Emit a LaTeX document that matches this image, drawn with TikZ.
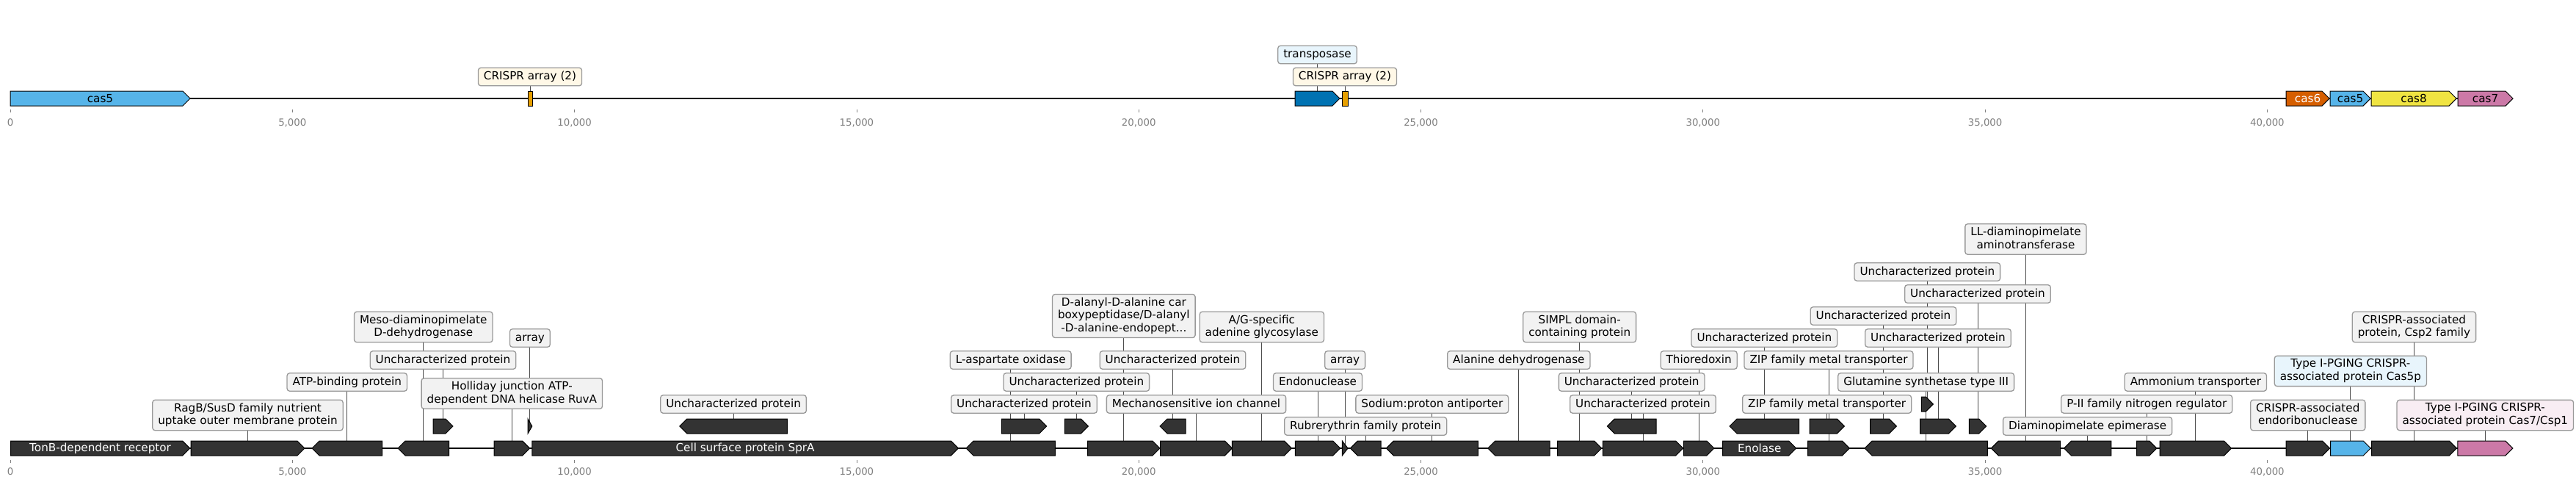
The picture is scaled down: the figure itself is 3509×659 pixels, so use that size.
\documentclass[tikz,border=0pt]{standalone}
\usepackage{fontspec}
\setmainfont{DejaVu Sans}
\usetikzlibrary{backgrounds}
\definecolor{gdark}{HTML}{333333}
\definecolor{lblfill}{HTML}{F2F2F2}
\definecolor{lbledge}{HTML}{999999}
\definecolor{tickgray}{HTML}{808080}
\definecolor{casblue}{HTML}{56B4E9}
\definecolor{tnpblue}{HTML}{0072B2}
\definecolor{arrorange}{HTML}{E69F00}
\definecolor{cassixred}{HTML}{D55E00}
\definecolor{caseightyellow}{HTML}{F0E442}
\definecolor{cassevenpink}{HTML}{CC79A7}
\definecolor{boxcream}{HTML}{FFF8E7}
\definecolor{boxblue}{HTML}{E8F5FC}
\definecolor{boxpink}{HTML}{F8EDF3}

\newcommand{\lstrut}{\rule[-4pt]{0pt}{16pt}}
% forward gene: name, start, tip, y, style
\newcommand{\gfwd}[5]{%
  \pgfmathsetmacro{\hd}{min(10,#3-#2)}%
  \draw[#5] (#2,#4-10) -- ({#3-\hd},#4-10) -- (#3,#4) -- ({#3-\hd},#4+10) -- (#2,#4+10) -- cycle;
  \coordinate (#1) at ({(#2+#3)/2},#4);}
% reverse gene: name, tip, end, y, style
\newcommand{\grev}[5]{%
  \pgfmathsetmacro{\hd}{min(10,#3-#2)}%
  \draw[#5] (#3,#4-10) -- ({#2+\hd},#4-10) -- (#2,#4) -- ({#2+\hd},#4+10) -- (#3,#4+10) -- cycle;
  \coordinate (#1) at ({(#2+#3)/2},#4);}

\begin{document}
\begin{tikzpicture}[
  x=1pt, y=-1pt,
  font=\fontsize{15.2}{17.5}\selectfont,
  gn/.style={draw=black, line width=1pt, fill=gdark},
  gtxt/.style={text=white, inner sep=0pt},
  lbl/.style={draw=lbledge, fill=lblfill, line width=1.3pt, rounded corners=3.5pt,
              align=center, inner xsep=7.5pt, inner ysep=4.25pt,
              execute at begin node=\lstrut, execute at end node=\lstrut},
  ln/.style={draw=black!70, line width=0.9pt},
  bb/.style={draw=black, line width=2.6pt},
  tk/.style={draw=tickgray, line width=0.8pt},
  tklbl/.style={text=tickgray, inner sep=0pt, font=\fontsize{13.3}{16}\selectfont}
]
\useasboundingbox (0,0) rectangle (3509,659);

\foreach \k/\t in {0/0, 1/{5,000}, 2/{10,000}, 3/{15,000}, 4/{20,000},
                   5/{25,000}, 6/{30,000}, 7/{35,000}, 8/{40,000}} {
  \draw[tk] ({14+384.3*\k},149) -- ({14+384.3*\k},153);
  \node[tklbl] (tt\k) at ({14+384.3*\k},167) {\t};
  \draw[tk] ({14+384.3*\k},626) -- ({14+384.3*\k},630);
  \node[tklbl] (bt\k) at ({14+384.3*\k},642) {\t};
}

\coordinate (ts) at (14,134);
\coordinate (te) at (3423,134);
\coordinate (bs) at (14,610);
\coordinate (be) at (3423,610);

% top track
\gfwd{tg1}{14}{259}{134}{gn, fill=casblue}
\node[inner sep=0pt] (tx1) at (tg1) {cas5};
\draw[gn, fill=arrorange] (719,124) rectangle (725,144);
\coordinate (ta1) at (722,134);
\node[lbl, fill=boxcream] (tl1) at (ta1 |- 0,104.5) {CRISPR array (2)};
\gfwd{tg2}{1764}{1825}{134}{gn, fill=tnpblue}
\node[lbl, fill=boxblue] (tl2) at (tg2 |- 0,74.5) {transposase};
\draw[gn, fill=arrorange] (1828,124) rectangle (1836,144);
\coordinate (ta2) at (1832,134);
\node[lbl, fill=boxcream] (tl3) at (ta2 |- 0,104.5) {CRISPR array (2)};
\gfwd{tg3}{3114}{3173}{134}{gn, fill=cassixred}
\node[gtxt] (tx3) at (tg3) {cas6};
\gfwd{tg4}{3174}{3229}{134}{gn, fill=casblue}
\node[inner sep=0pt] (tx4) at (tg4) {cas5};
\gfwd{tg5}{3230}{3346}{134}{gn, fill=caseightyellow}
\node[inner sep=0pt] (tx5) at (tg5) {cas8};
\gfwd{tg6}{3348}{3423}{134}{gn, fill=cassevenpink}
\node[inner sep=0pt] (tx6) at (tg6) {cas7};

% bottom track
\gfwd{g1}{14.5}{258.7}{610}{gn}
\node[gtxt] (t1) at (g1) {TonB-dependent receptor};
\gfwd{g2}{260}{415}{610}{gn}
\node[lbl] (l2) at (g2 |- 0,565) {RagB/SusD family nutrient\\uptake outer membrane protein};
\grev{g3}{425}{520.5}{610}{gn}
\node[lbl] (l3) at (g3 |- 0,520) {ATP-binding protein};
\grev{g4}{542}{611.5}{610}{gn}
\node[lbl] (l4) at (g4 |- 0,445) {Meso-diaminopimelate\\D-dehydrogenase};
\gfwd{g5}{590}{617}{580}{gn}
\node[lbl] (l5) at (g5 |- 0,490) {Uncharacterized protein};
\gfwd{g6}{673}{721.7}{610}{gn}
\node[lbl] (l6) at (g6 |- 0,535.5) {Holliday junction ATP-\\dependent DNA helicase RuvA};
\gfwd{g7}{719}{724.8}{580}{gn}
\node[lbl] (l7) at (g7 |- 0,460) {array};
\gfwd{g8}{724.8}{1305.4}{610}{gn}
\node[gtxt] (t8) at (g8) {Cell surface protein SprA};
\grev{g9}{925.8}{1072.3}{580}{gn}
\node[lbl] (l9) at (g9 |- 0,550) {Uncharacterized protein};
\grev{g10}{1316}{1437.4}{610}{gn}
\node[lbl] (l10) at (g10 |- 0,490) {L-aspartate oxidase};
\gfwd{g11}{1364.3}{1425.7}{580}{gn}
\node[lbl] (l11) at (g11 |- 0,550) {Uncharacterized protein};
\gfwd{g12}{1450.3}{1482.3}{580}{gn}
\node[lbl] (l12) at (g12 |- 0,520) {Uncharacterized protein};
\gfwd{g13}{1481.7}{1580}{610}{gn}
\node[lbl] (l13) at (g13 |- 0,430) {D-alanyl-D-alanine car\\boxypeptidase/D-alanyl\\-D-alanine-endopept...};
\grev{g14}{1580}{1615}{580}{gn}
\node[lbl] (l14) at (g14 |- 0,490) {Uncharacterized protein};
\gfwd{g15}{1580.7}{1678.3}{610}{gn}
\node[lbl] (l15) at (g15 |- 0,550) {Mechanosensitive ion channel};
\gfwd{g16}{1678.3}{1759.3}{610}{gn}
\node[lbl] (l16) at (g16 |- 0,445) {A/G-specific\\adenine glycosylase};
\gfwd{g17}{1764.3}{1825.7}{610}{gn}
\node[lbl] (l17) at (g17 |- 0,520) {Endonuclease};
\gfwd{g18}{1828.3}{1836}{610}{gn}
\node[lbl] (l18) at (g18 |- 0,490) {array};
\grev{g19}{1839.3}{1881}{610}{gn}
\node[lbl] (l19) at (g19 |- 0,580) {Rubrerythrin family protein};
\grev{g20}{1888.3}{2013.3}{610}{gn}
\node[lbl] (l20) at (g20 |- 0,550) {Sodium:proton antiporter};
\grev{g21}{2026.7}{2111}{610}{gn}
\node[lbl] (l21) at (g21 |- 0,490) {Alanine dehydrogenase};
\gfwd{g22}{2121.7}{2181.7}{610}{gn}
\node[lbl] (l22) at (g22 |- 0,445) {SIMPL domain-\\containing protein};
\grev{g23}{2189.3}{2256}{580}{gn}
\node[lbl] (l23) at (g23 |- 0,520) {Uncharacterized protein};
\gfwd{g24}{2183.3}{2292.7}{610}{gn}
\node[lbl] (l24) at (g24 |- 0,550) {Uncharacterized protein};
\gfwd{g25}{2293.3}{2335}{610}{gn}
\node[lbl] (l25) at (g25 |- 0,490) {Thioredoxin};
\gfwd{g26}{2346.7}{2446.7}{610}{gn}
\node[gtxt] (t26) at (g26) {Enolase};
\grev{g27}{2356}{2450.7}{580}{gn}
\node[lbl] (l27) at (g27 |- 0,460) {Uncharacterized protein};
\gfwd{g28}{2462.7}{2519.3}{610}{gn}
\node[lbl] (l28) at (g28 |- 0,490) {ZIP family metal transporter};
\gfwd{g29}{2465}{2512.3}{580}{gn}
\node[lbl] (l29) at (g29 |- 0,550) {ZIP family metal transporter};
\grev{g30}{2540}{2707.3}{610}{gn}
\node[lbl] (l30) at (g30 |- 0,520) {Glutamine synthetase type III};
\gfwd{g31}{2547.7}{2583.3}{580}{gn}
\node[lbl] (l31) at (g31 |- 0,430) {Uncharacterized protein};
\gfwd{g32}{2615.7}{2664.3}{580}{gn}
\node[lbl] (l32) at (g32 |- 0,460) {Uncharacterized protein};
\gfwd{g33}{2617.3}{2633.3}{550}{gn}
\node[lbl] (l33) at (g33 |- 0,370) {Uncharacterized protein};
\gfwd{g34}{2682.3}{2705.7}{580}{gn}
\node[lbl] (l34) at (g34 |- 0,400) {Uncharacterized protein};
\grev{g35}{2712.3}{2806.6}{610}{gn}
\node[lbl] (l35) at (g35 |- 0,325.5) {LL-diaminopimelate\\aminotransferase};
\grev{g36}{2811.5}{2875.8}{610}{gn}
\node[lbl] (l36) at (g36 |- 0,580) {Diaminopimelate epimerase};
\gfwd{g37}{2910.7}{2937.8}{610}{gn}
\node[lbl] (l37) at (g37 |- 0,550) {P-II family nitrogen regulator};
\gfwd{g38}{2942.2}{3039.5}{610}{gn}
\node[lbl] (l38) at (g38 |- 0,520) {Ammonium transporter};
\gfwd{g39}{3114}{3173.5}{610}{gn}
\node[lbl] (l39) at (g39 |- 0,565) {CRISPR-associated\\endoribonuclease};
\gfwd{g40}{3174.5}{3229.2}{610}{gn, fill=casblue}
\node[lbl, fill=boxblue] (l40) at (g40 |- 0,505) {Type I-PGING CRISPR-\\associated protein Cas5p};
\gfwd{g41}{3230.6}{3346.3}{610}{gn}
\node[lbl] (l41) at (g41 |- 0,445) {CRISPR-associated\\protein, Csp2 family};
\gfwd{g42}{3347.8}{3422.8}{610}{gn, fill=cassevenpink}
\node[lbl, fill=boxpink] (l42) at (g42 |- 0,565) {Type I-PGING CRISPR-\\associated protein Cas7/Csp1};

\begin{scope}[on background layer]
\draw[bb] (ts) -- (te);
\draw[bb] (bs) -- (be);
\draw[ln] (ta1) -- (ta1 |- tl1.south);
\draw[ln] (tg2) -- (tg2 |- tl2.south);
\draw[ln] (ta2) -- (ta2 |- tl3.south);
\foreach \n in {2,...,7,9,10,...,25,27,28,...,42}
  \draw[ln] (g\n) -- (g\n |- l\n.south);
\end{scope}

\end{tikzpicture}
\end{document}
